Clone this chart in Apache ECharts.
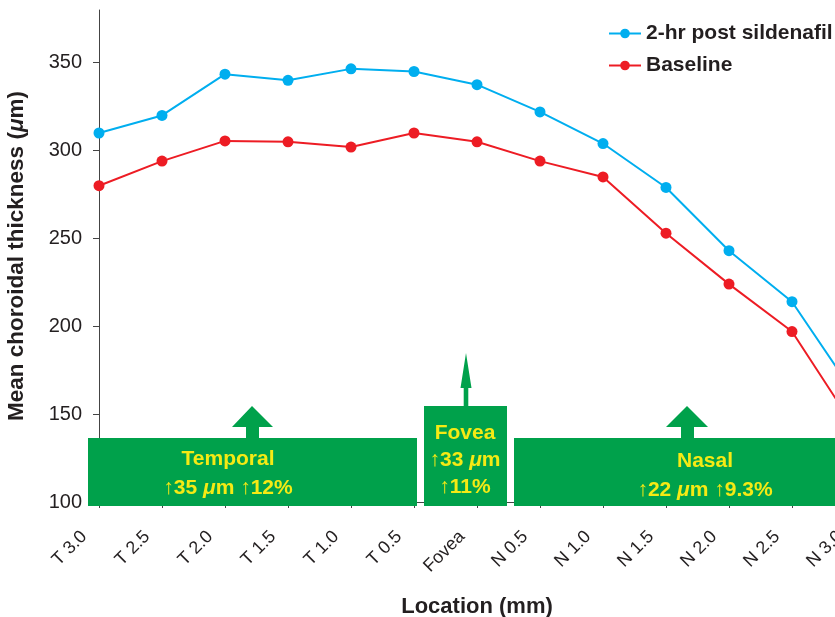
<!DOCTYPE html>
<html>
<head>
<meta charset="utf-8">
<script src="https://cdn.jsdelivr.net/npm/echarts@6/dist/echarts.min.js"></script>
<style>html,body{margin:0;padding:0;background:#fff}#c{width:835px;height:617px}</style>
</head>
<body>
<div id="c"></div>
<script>
var categories = ['T 3.0','T 2.5','T 2.0','T 1.5','T 1.0','T 0.5','Fovea','N 0.5','N 1.0','N 1.5','N 2.0','N 2.5','N 3.0'];
var postSildenafil = [310, 320, 343.5, 340, 346.5, 345, 337.5, 322, 304, 279, 243, 214, 161];
var baseline = [280, 294, 305.5, 305, 302, 310, 305, 294, 285, 253, 224, 197, 142];
var yTicks = [100, 150, 200, 250, 300, 350];

var FONT = '"Liberation Sans", Arial, Helvetica, sans-serif';
var TXT = '#231F20';
var BLUE = '#00AEEF';
var RED = '#ED1C24';
var GREEN = '#00A14B';
var YEL = '#F5EA14';

var chart = echarts.init(document.getElementById('c'));

function rt(x, y, text) {
  return {
    type: 'text', z: 20, x: x, y: y,
    style: {
      text: text, align: 'center', verticalAlign: 'middle',
      fill: YEL, font: 'bold 21px ' + FONT,
      rich: {
        a: { fill: YEL, fontSize: 21, fontWeight: 'normal', fontFamily: FONT },
        b: { fill: YEL, fontSize: 21, fontWeight: 'bold', fontFamily: FONT },
        i: { fill: YEL, fontSize: 21, fontWeight: 'bold', fontStyle: 'italic', fontFamily: FONT }
      }
    }
  };
}

var option = {
  animation: false,
  backgroundColor: '#fff',
  textStyle: { fontFamily: FONT },
  grid: { left: 99, top: 10, width: 756, bottom: 115, containLabel: false, outerBoundsMode: 'none' },
  legend: {
    orient: 'vertical', left: 603, top: 18, itemGap: 11,
    itemWidth: 32, itemHeight: 12,
    data: ['2-hr post sildenafil', 'Baseline'],
    textStyle: { color: TXT, fontSize: 21, fontWeight: 'bold', fontFamily: FONT }
  },
  xAxis: {
    type: 'category', data: categories, boundaryGap: false,
    name: 'Location (mm)', nameLocation: 'middle', nameGap: 94,
    nameTextStyle: { color: TXT, fontSize: 22, fontWeight: 'bold', fontFamily: FONT },
    axisLine: { lineStyle: { color: '#444', width: 1 } },
    axisTick: { show: true, length: 6, lineStyle: { color: '#444' } },
    axisLabel: { rotate: 45, margin: 17, padding: [0, 21, 0, 0], color: TXT, fontSize: 18, fontFamily: FONT, interval: 0 },
    splitLine: { show: false }
  },
  yAxis: {
    type: 'value', min: 100, max: 380, interval: 50,
    name: 'Mean choroidal thickness ({i|μ}m)', nameLocation: 'middle', nameGap: 71,
    nameTextStyle: { color: TXT, fontSize: 22.5, fontWeight: 'bold', fontFamily: FONT,
      rich: { i: { color: TXT, fontSize: 22.5, fontWeight: 'bold', fontStyle: 'italic', fontFamily: FONT } } },
    axisLine: { show: true, lineStyle: { color: '#444', width: 1 } },
    axisTick: { show: true, length: 6, customValues: yTicks, lineStyle: { color: '#444' } },
    axisLabel: { customValues: yTicks, margin: 17, color: TXT, fontSize: 20, fontFamily: FONT },
    splitLine: { show: false }
  },
  series: [
    {
      name: '2-hr post sildenafil', type: 'line', data: postSildenafil,
      symbol: 'circle', symbolSize: 11, z: 3,
      lineStyle: { color: BLUE, width: 2 }, itemStyle: { color: BLUE }
    },
    {
      name: 'Baseline', type: 'line', data: baseline,
      symbol: 'circle', symbolSize: 11, z: 4,
      lineStyle: { color: RED, width: 2 }, itemStyle: { color: RED }
    }
  ],
  graphic: [
    { type: 'rect', z: 10, shape: { x: 88, y: 438, width: 329, height: 68 }, style: { fill: GREEN } },
    { type: 'rect', z: 10, shape: { x: 424, y: 406, width: 83, height: 100 }, style: { fill: GREEN } },
    { type: 'rect', z: 10, shape: { x: 514, y: 438, width: 340, height: 68 }, style: { fill: GREEN } },
    { type: 'polygon', z: 10, shape: { points: [[252,406],[273,427],[259,427],[259,439],[246,439],[246,427],[232,427]] }, style: { fill: GREEN } },
    { type: 'polygon', z: 10, shape: { points: [[466,353],[471.5,388],[468.3,388],[468.3,407],[463.7,407],[463.7,388],[460.5,388]] }, style: { fill: GREEN } },
    { type: 'polygon', z: 10, shape: { points: [[687,406],[708,427],[694,427],[694,439],[681,439],[681,427],[666,427]] }, style: { fill: GREEN } },
    rt(228, 459, '{b|Temporal}'),
    rt(228, 488, '{a|↑}{b|35 }{i|μ}{b|m }{a|↑}{b|12%}'),
    rt(465, 433, '{b|Fovea}'),
    rt(465, 460, '{a|↑}{b|33 }{i|μ}{b|m}'),
    rt(465, 487, '{a|↑}{b|11%}'),
    rt(705, 461, '{b|Nasal}'),
    rt(705, 490, '{a|↑}{b|22 }{i|μ}{b|m }{a|↑}{b|9.3%}')
  ]
};
chart.setOption(option);
</script>
</body>
</html>
